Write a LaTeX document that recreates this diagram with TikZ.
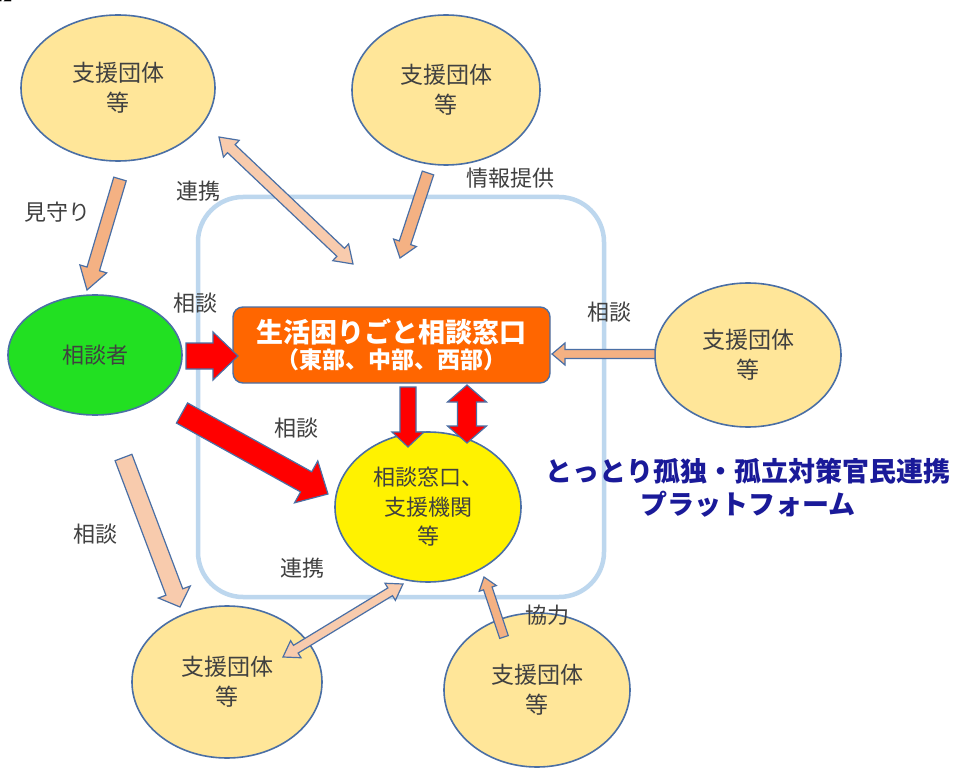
\documentclass[tikz,border=0pt]{standalone}
\usepackage{fontspec}
\setmainfont{Noto Sans CJK JP}
\usetikzlibrary{shapes.geometric,calc}
\definecolor{ellfill}{HTML}{FFE699}
\definecolor{edgeblue}{HTML}{4A6FA5}
\definecolor{framecol}{HTML}{BDD7EE}
\definecolor{salmon}{HTML}{F4B183}
\definecolor{lightsalmon}{HTML}{F8CBAD}
\definecolor{boxorange}{HTML}{FF6600}
\definecolor{labelgray}{HTML}{404040}
\definecolor{navy}{HTML}{1A1A99}
\definecolor{brightgreen}{HTML}{22E022}
\tikzset{
  org/.style={ellipse, draw=edgeblue, line width=1.6pt, fill=ellfill, text=labelgray, align=center, inner sep=0pt,
     font=\fontsize{23}{30}\selectfont},
  lbl/.style={text=labelgray, font=\fontsize{22}{26}\selectfont, inner sep=0pt},
  sarrow/.style={draw=edgeblue, line width=1.2pt, fill=salmon, line join=miter},
  larrow/.style={draw=edgeblue, line width=1.2pt, fill=lightsalmon, line join=miter},
  rarrow/.style={draw=edgeblue, line width=1.2pt, fill=red, line join=miter},
}
% single block arrow: #1 style, #2 from, #3 to, #4 shaft half width, #5 head half width, #6 head length
\newcommand\blockarrow[6]{%
  \path let \p1=(#2), \p2=(#3), \n1={atan2(\y2-\y1,\x2-\x1)}, \n2={veclen(\x2-\x1,\y2-\y1)} in \pgfextra{\xdef\baAng{\n1}\xdef\baLen{\n2}};
  \begin{scope}[shift={(#2)},rotate=\baAng]
    \draw[#1] (0,-#4) -- (\baLen-#6,-#4) -- (\baLen-#6,-#5) -- (\baLen,0) -- (\baLen-#6,#5) -- (\baLen-#6,#4) -- (0,#4) -- cycle;
  \end{scope}}
% double block arrow
\newcommand\dblockarrow[6]{%
  \path let \p1=(#2), \p2=(#3), \n1={atan2(\y2-\y1,\x2-\x1)}, \n2={veclen(\x2-\x1,\y2-\y1)} in \pgfextra{\xdef\baAng{\n1}\xdef\baLen{\n2}};
  \begin{scope}[shift={(#2)},rotate=\baAng]
    \draw[#1] (0,0) -- (#6,#5) -- (#6,#4) -- (\baLen-#6,#4) -- (\baLen-#6,#5) -- (\baLen,0) -- (\baLen-#6,-#5) -- (\baLen-#6,-#4) -- (#6,-#4) -- (#6,-#5) -- cycle;
  \end{scope}}
\begin{document}
\begin{tikzpicture}[x=1pt,y=1pt]
\useasboundingbox (0,0) rectangle (959,-770);
\fill[white] (0,0) rectangle (959,-770);
% clipped heading fragment (cut off at the top edge, as in the reference)
\node[anchor=base west, inner sep=0pt, font=\fontsize{24}{24}\selectfont\bfseries] (head) at (-21,0) {図】};
% platform frame
\node[draw=framecol, line width=4.5pt, rounded corners=45pt, minimum width=406pt, minimum height=400pt] (platform) at (401,-397) {};
% ellipses
\node[org, minimum width=194pt, minimum height=146pt] (s1) at (118,-88) {支援団体\\等};
\node[org, minimum width=188pt, minimum height=150pt] (s2) at (446,-90) {支援団体\\等};
\node[org, minimum width=186pt, minimum height=144pt] (s3) at (748,-355) {支援団体\\等};
\node[org, minimum width=190pt, minimum height=152pt] (s4) at (227,-682) {支援団体\\等};
\node[org, minimum width=186pt, minimum height=154pt] (s5) at (537,-690) {支援団体\\等};
\node[org, fill=brightgreen, minimum width=174pt, minimum height=120pt, font=\fontsize{22}{26}\selectfont] (client) at (95,-355) {相談者};
\node[org, fill=yellow, minimum width=186pt, minimum height=150pt, font=\fontsize{22}{29.5}\selectfont] (desk) at (428,-507) {相談窓口、\\支援機関\\等};
% orange box
\node[draw=edgeblue, line width=1.4pt, fill=boxorange, rounded corners=10pt, minimum width=317pt, minimum height=76pt, text=white, align=center, inner sep=0pt] (window) at (391.5,-345)
  {{\fontsize{27}{30}\selectfont\bfseries 生活困りごと相談窓口}\\[3pt]{\fontsize{23}{26}\selectfont\bfseries （東部、中部、西部）}};
% platform title
\node[text=navy, align=center, font=\fontsize{27}{33}\selectfont\bfseries, inner sep=0pt] (ptitle) at (748,-488) {とっとり孤独・孤立対策官民連携\\プラットフォーム};
% arrow endpoints
\coordinate (a1s) at (120,-179); \coordinate (a1e) at (87,-290);
\coordinate (a2s) at (219,-137); \coordinate (a2e) at (353,-264);
\coordinate (a3s) at (428,-173); \coordinate (a3e) at (400,-258);
\coordinate (a4s) at (655,-354); \coordinate (a4e) at (552,-354);
\coordinate (a5s) at (186,-356); \coordinate (a5e) at (238,-356);
\coordinate (a6s) at (182,-413); \coordinate (a6e) at (328,-494);
\coordinate (a7s) at (408,-387); \coordinate (a7e) at (408,-447);
\coordinate (a8s) at (467,-385); \coordinate (a8e) at (467,-443);
\coordinate (a9s) at (123.5,-457.5); \coordinate (a9e) at (180,-607);
\coordinate (a10s) at (283,-657); \coordinate (a10e) at (403,-584);
\coordinate (a11s) at (504,-637); \coordinate (a11e) at (484,-577);
% arrows
\blockarrow{sarrow}{a1s}{a1e}{6.5}{14}{22}
\dblockarrow{larrow}{a2s}{a2e}{5.5}{11.5}{17}
\blockarrow{sarrow}{a3s}{a3e}{6}{12}{16}
\blockarrow{sarrow}{a4s}{a4e}{4.5}{11}{13}
\blockarrow{rarrow}{a5s}{a5e}{13}{24}{25}
\blockarrow{rarrow}{a6s}{a6e}{11.5}{24}{25}
\blockarrow{rarrow}{a7s}{a7e}{8}{16}{15}
\dblockarrow{rarrow}{a8s}{a8e}{9.5}{19.5}{17}
\blockarrow{larrow}{a9s}{a9e}{9}{17}{16}
\dblockarrow{larrow}{a10s}{a10e}{4.5}{10}{15}
\blockarrow{sarrow}{a11s}{a11e}{4.5}{9}{12}
% labels
\node[lbl] (l1) at (57,-212) {見守り};
\node[lbl] (l2) at (198,-191) {連携};
\node[lbl] (l3) at (510,-178) {情報提供};
\node[lbl] (l4) at (195,-303) {相談};
\node[lbl] (l5) at (609,-312) {相談};
\node[lbl] (l6) at (296,-428) {相談};
\node[lbl] (l7) at (95,-534) {相談};
\node[lbl] (l8) at (302,-568) {連携};
\node[lbl] (l9) at (547,-615) {協力};
\end{tikzpicture}
\end{document}
